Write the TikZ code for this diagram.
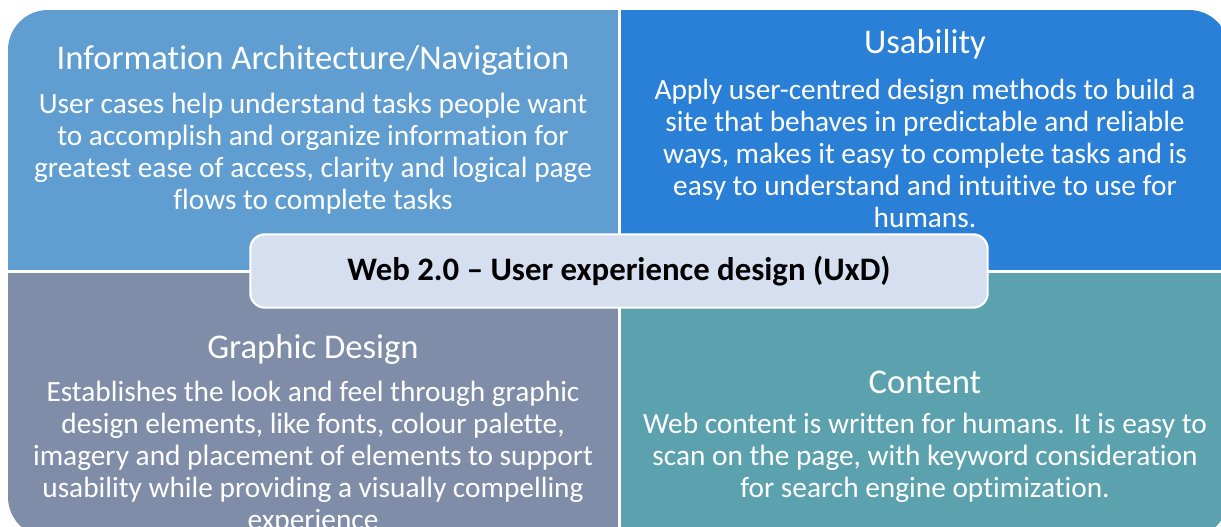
\documentclass[tikz,border=0pt]{standalone}
\usepackage{fontspec}
\setmainfont{Carlito}[Ligatures=NoCommon]
\usepackage{tikz}
\usepackage{xcolor}
\usetikzlibrary{positioning}
\definecolor{cInfo}{RGB}{96,158,210}
\definecolor{cUsab}{RGB}{42,127,214}
\definecolor{cGraph}{RGB}{128,141,168}
\definecolor{cCont}{RGB}{91,162,174}
\definecolor{cCentre}{RGB}{213,223,239}
\tikzset{
	quadtitle/.style={text=white, align=center, inner sep=0pt, font=\fontsize{26}{28}\selectfont},
	quadbody/.style ={text=white, align=center, inner sep=0pt, font=\fontsize{22}{24}\selectfont},
	centrebox/.style={rectangle, rounded corners=11pt, draw=white, line width=1.6pt, fill=cCentre,
		minimum width=553pt, minimum height=55pt, font=\bfseries\fontsize{24.6}{26}\selectfont},
}

\begin{document}
\begin{tikzpicture}[x=0.75pt, y=-0.75pt]
	\useasboundingbox (0,0) rectangle (1221,527);
	% ---------------- quadrants ----------------
	\begin{scope}
		\clip[rounded corners=30pt] (8,10) rectangle (1229,537);
		\fill[cInfo]  (8,10)    rectangle (618,270.5);
		\fill[cUsab]  (621,10)  rectangle (1229,270.5);
		\fill[cGraph] (8,273)   rectangle (618,537);
		\fill[cCont]  (621,273) rectangle (1229,537);
	\end{scope}
	% ---------------- Information Architecture ----------------
	\node[quadtitle] (infoT) at (313,60) {Information Architecture/Navigation};
	\node[quadbody] (infoB) at (313,154) {User cases help understand tasks people want\\
		to accomplish and organize information for\\
		greatest ease of access, clarity and logical page\\
		flows to complete tasks};
	% ---------------- Usability ----------------
	\node[quadtitle] (usabT) at (925,44) {Usability};
	\node[quadbody] (usabB) at (925,153) {Apply user-centred design methods to build a\\
		site that behaves in predictable and reliable\\
		ways, makes it easy to complete tasks and is\\
		easy to understand and intuitive to use for\\
		humans.};
	% ---------------- Graphic Design ----------------
	\node[quadtitle] (graphT) at (313,349) {Graphic Design};
	\node[quadbody] (graphB) at (313,457.5) {Establishes the look and feel through graphic\\
		design elements, like fonts, colour palette,\\
		imagery and placement of elements to support\\
		usability while providing a visually compelling\\
		experience};
	% ---------------- Content ----------------
	\node[quadtitle] (contT) at (925,382) {Content};
	\node[quadbody] (contB) at (925,458) {Web content is written for humans. It is easy to\\
		scan on the page, with keyword consideration\\
		for search engine optimization.};
	% ---------------- centre ----------------
	\node[centrebox] (centre) at (619,271) {Web 2.0 -- User experience design (UxD)};
\end{tikzpicture}
\end{document}
